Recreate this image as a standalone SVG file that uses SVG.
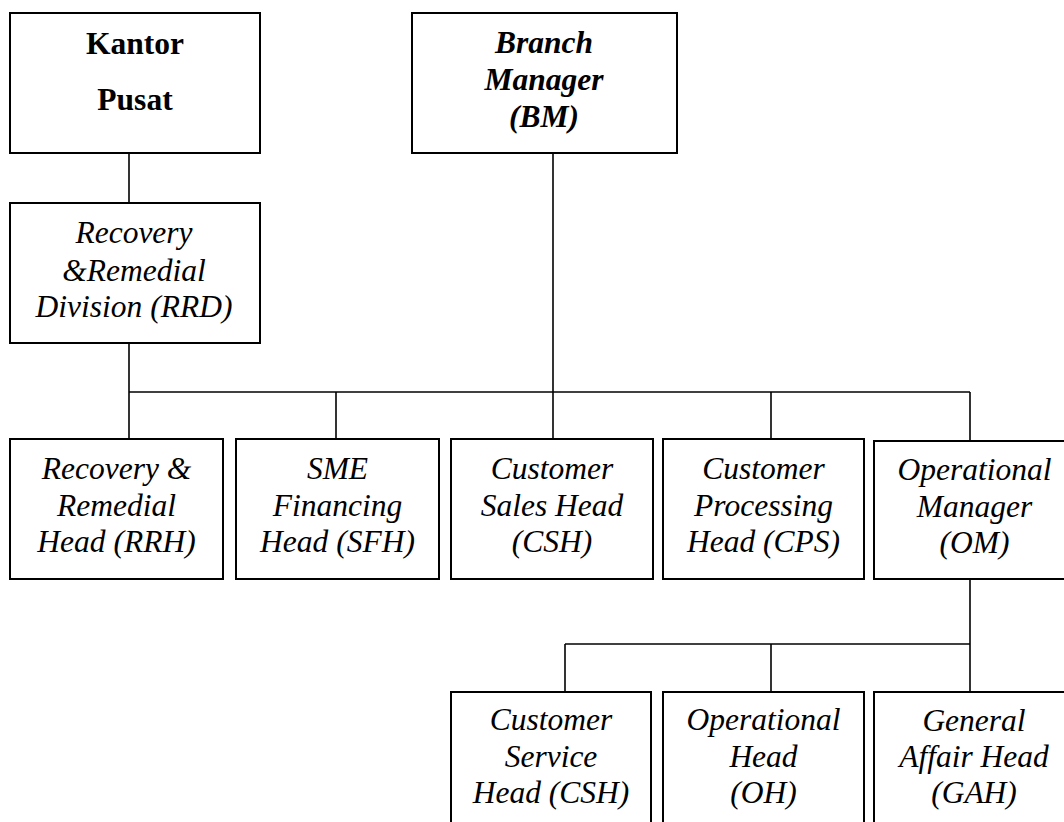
<svg xmlns="http://www.w3.org/2000/svg" width="1064" height="822" viewBox="0 0 1064 822">
<style>
.box{fill:#fff;stroke:#000;stroke-width:2}
.ln{stroke:#000;stroke-width:1.6;fill:none}
text{font-family:"Liberation Serif","Times New Roman",serif;font-size:31.5px;text-anchor:middle;fill:#000}
.it{font-style:italic}
.b{font-weight:bold}
</style>
<rect width="1064" height="822" fill="#fff"/>
<g id="connectors">
<line class="ln" x1="129" y1="153" x2="129" y2="203"/>
<line class="ln" x1="129" y1="343" x2="129" y2="439"/>
<line class="ln" x1="129" y1="392" x2="970" y2="392"/>
<line class="ln" x1="553" y1="153" x2="553" y2="439"/>
<line class="ln" x1="336" y1="392" x2="336" y2="439"/>
<line class="ln" x1="771" y1="392" x2="771" y2="439"/>
<line class="ln" x1="970" y1="392" x2="970" y2="441"/>
<line class="ln" x1="970" y1="579" x2="970" y2="692"/>
<line class="ln" x1="565" y1="644" x2="970" y2="644"/>
<line class="ln" x1="565" y1="644" x2="565" y2="692"/>
<line class="ln" x1="771" y1="644" x2="771" y2="692"/>
</g>
<g id="kantor-pusat">
<rect class="box" x="10" y="13" width="250" height="140"/>
<text class="b" x="135" y="54">Kantor</text>
<text class="b" x="135" y="110">Pusat</text>
</g>
<g id="branch-manager">
<rect class="box" x="412" y="13" width="265" height="140"/>
<text class="b it" x="544" y="53">Branch</text>
<text class="b it" x="544" y="90">Manager</text>
<text class="b it" x="544" y="127">(BM)</text>
</g>
<g id="rrd">
<rect class="box" x="10" y="203" width="250" height="140"/>
<text class="it" x="134" y="243">Recovery</text>
<text class="it" x="134" y="281">&amp;Remedial</text>
<text class="it" x="134" y="317">Division (RRD)</text>
</g>
<g id="rrh">
<rect class="box" x="10" y="439" width="213" height="140"/>
<text class="it" x="116.5" y="479">Recovery &amp;</text>
<text class="it" x="116.5" y="515.5">Remedial</text>
<text class="it" x="116.5" y="552">Head (RRH)</text>
</g>
<g id="sfh">
<rect class="box" x="236" y="439" width="203" height="140"/>
<text class="it" x="337.5" y="479">SME</text>
<text class="it" x="337.5" y="515.5">Financing</text>
<text class="it" x="337.5" y="552">Head (SFH)</text>
</g>
<g id="csh-sales">
<rect class="box" x="451" y="439" width="202" height="140"/>
<text class="it" x="552" y="479">Customer</text>
<text class="it" x="552" y="515.5">Sales Head</text>
<text class="it" x="552" y="552">(CSH)</text>
</g>
<g id="cps">
<rect class="box" x="663" y="439" width="201" height="140"/>
<text class="it" x="763.5" y="479">Customer</text>
<text class="it" x="763.5" y="515.5">Processing</text>
<text class="it" x="763.5" y="552">Head (CPS)</text>
</g>
<g id="om">
<rect class="box" x="874" y="441" width="201" height="138"/>
<text class="it" x="974.5" y="480">Operational</text>
<text class="it" x="974.5" y="516.5">Manager</text>
<text class="it" x="974.5" y="553">(OM)</text>
</g>
<g id="csh-service">
<rect class="box" x="451" y="692" width="200" height="150"/>
<text class="it" x="551" y="730">Customer</text>
<text class="it" x="551" y="767">Service</text>
<text class="it" x="551" y="803">Head (CSH)</text>
</g>
<g id="oh">
<rect class="box" x="663" y="692" width="201" height="150"/>
<text class="it" x="763.5" y="730">Operational</text>
<text class="it" x="763.5" y="767">Head</text>
<text class="it" x="763.5" y="803">(OH)</text>
</g>
<g id="gah">
<rect class="box" x="874" y="692" width="201" height="150"/>
<text class="it" x="974" y="731">General</text>
<text class="it" x="974" y="767">Affair Head</text>
<text class="it" x="974" y="803">(GAH)</text>
</g>
</svg>
